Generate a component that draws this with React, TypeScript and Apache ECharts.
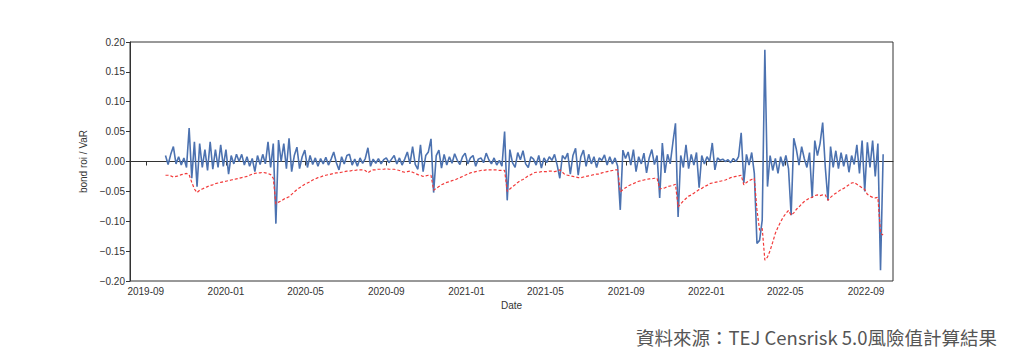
import React, { useEffect, useRef } from "react";
import * as echarts from "echarts";

// Sampling grid of the series (every 4 days from the first observation)
const startDate = [2019, 10, 1];
const stepDays = 4;

// bond return (blue)
const bondRoi = [
  0.010, -0.005, 0.012, 0.025, -0.004, 0.008, -0.006, 0.006, -0.010, 0.056,
  -0.028, 0.033, -0.042, 0.030, -0.010, 0.020, -0.015, 0.033, -0.013, 0.020,
  -0.010, 0.028, -0.008, 0.020, -0.021, 0.010, -0.004, 0.012, 0.000, 0.012,
  -0.006, 0.008, -0.008, 0.005, -0.017, 0.010, -0.005, 0.012, -0.004, 0.033,
  -0.010, 0.030, -0.104, 0.036, 0.000, 0.030, -0.012, 0.039, -0.017, 0.010,
  0.024, -0.012, 0.008, 0.019, -0.010, 0.010, -0.005, 0.006, -0.008, 0.005,
  -0.004, 0.007, -0.006, 0.004, 0.016, -0.002, -0.014, 0.008, -0.004, 0.010,
  0.012, -0.006, 0.004, -0.008, 0.006, -0.003, 0.005, 0.023, -0.008, 0.004,
  -0.003, 0.005, -0.004, 0.003, 0.006, -0.002, 0.004, 0.010, -0.004, 0.006,
  -0.006, 0.004, 0.016, -0.004, 0.025, -0.005, -0.013, 0.028, -0.017, 0.010,
  0.016, 0.038, -0.052, 0.010, 0.019, -0.011, 0.012, -0.006, 0.008, -0.003,
  0.013, 0.002, -0.005, 0.008, 0.014, -0.004, 0.006, 0.010, -0.008, 0.004,
  0.006, -0.002, 0.014, 0.003, -0.004, 0.006, -0.006, 0.002, -0.008, 0.050,
  -0.065, 0.020, -0.002, -0.010, 0.015, 0.003, 0.018, -0.004, -0.010, 0.008,
  0.004, -0.006, 0.010, -0.011, 0.006, -0.002, 0.008, 0.002, 0.012, -0.006,
  -0.028, 0.010, 0.004, 0.014, -0.021, 0.010, 0.022, -0.023, 0.008, 0.019,
  -0.008, 0.012, -0.004, 0.008, -0.010, 0.006, 0.002, 0.011, -0.006, 0.008,
  -0.004, 0.006, -0.008, -0.081, 0.019, 0.005, 0.016, -0.006, 0.020, -0.017,
  0.008, -0.004, 0.014, -0.019, 0.006, 0.020, -0.005, 0.010, -0.061, 0.031,
  -0.019, 0.012, -0.004, 0.031, 0.064, -0.093, 0.010, -0.010, 0.028, -0.012,
  0.012, -0.006, 0.015, -0.044, 0.010, -0.004, 0.008, 0.000, 0.031, -0.014,
  0.006, 0.002, 0.004, 0.000, 0.003, -0.002, 0.005, 0.000, 0.008, 0.048,
  -0.036, 0.012, -0.006, 0.015, -0.020, -0.137, -0.132, -0.098, 0.187, -0.042,
  0.010, -0.015, 0.005, -0.020, 0.008, -0.008, 0.010, -0.012, -0.090, 0.039,
  0.020, -0.006, 0.025, 0.005, -0.010, 0.015, -0.061, 0.035, 0.010, 0.030,
  0.065, -0.010, -0.065, 0.025, -0.010, 0.018, -0.012, 0.015, -0.008, 0.012,
  -0.018, 0.010, -0.005, 0.028, -0.020, 0.035, -0.050, 0.032, -0.010, 0.035,
  -0.025, 0.030, -0.182, 0.012,
];

// Value at Risk (red dashed)
const varValues = [
  -0.023, -0.023, -0.024, -0.026, -0.025, -0.024, -0.022, -0.021, -0.020, -0.022,
  -0.035, -0.046, -0.052, -0.048, -0.046, -0.044, -0.042, -0.040, -0.039, -0.037,
  -0.036, -0.035, -0.034, -0.033, -0.032, -0.031, -0.030, -0.029, -0.028, -0.027,
  -0.026, -0.025, -0.023, -0.021, -0.020, -0.019, -0.019, -0.018, -0.019, -0.020,
  -0.022, -0.028, -0.071, -0.068, -0.066, -0.063, -0.061, -0.059, -0.055, -0.051,
  -0.047, -0.044, -0.041, -0.038, -0.036, -0.034, -0.031, -0.029, -0.027, -0.026,
  -0.024, -0.023, -0.022, -0.021, -0.020, -0.019, -0.019, -0.018, -0.017, -0.016,
  -0.016, -0.015, -0.015, -0.014, -0.014, -0.014, -0.015, -0.019, -0.016, -0.014,
  -0.014, -0.013, -0.013, -0.013, -0.012, -0.013, -0.013, -0.013, -0.014, -0.015,
  -0.017, -0.018, -0.017, -0.016, -0.018, -0.020, -0.022, -0.023, -0.025, -0.024,
  -0.023, -0.023, -0.048, -0.045, -0.042, -0.039, -0.037, -0.035, -0.034, -0.032,
  -0.031, -0.029, -0.027, -0.025, -0.023, -0.021, -0.019, -0.018, -0.017, -0.016,
  -0.015, -0.015, -0.014, -0.014, -0.014, -0.014, -0.014, -0.015, -0.015, -0.015,
  -0.050, -0.046, -0.042, -0.039, -0.035, -0.032, -0.030, -0.027, -0.024, -0.022,
  -0.019, -0.018, -0.018, -0.017, -0.017, -0.017, -0.016, -0.016, -0.017, -0.016,
  -0.014, -0.018, -0.022, -0.023, -0.024, -0.025, -0.026, -0.027, -0.027, -0.026,
  -0.025, -0.024, -0.023, -0.022, -0.021, -0.021, -0.019, -0.018, -0.017, -0.016,
  -0.015, -0.014, -0.014, -0.051, -0.047, -0.044, -0.041, -0.039, -0.037, -0.035,
  -0.033, -0.032, -0.031, -0.030, -0.029, -0.029, -0.028, -0.028, -0.046, -0.045,
  -0.044, -0.042, -0.041, -0.040, -0.038, -0.076, -0.071, -0.066, -0.062, -0.058,
  -0.056, -0.053, -0.050, -0.047, -0.045, -0.042, -0.040, -0.037, -0.036, -0.035,
  -0.034, -0.033, -0.032, -0.031, -0.029, -0.027, -0.026, -0.025, -0.024, -0.023,
  -0.039, -0.035, -0.032, -0.030, -0.028, -0.081, -0.115, -0.112, -0.165, -0.160,
  -0.149, -0.135, -0.120, -0.110, -0.101, -0.093, -0.087, -0.082, -0.090, -0.086,
  -0.080, -0.076, -0.071, -0.067, -0.064, -0.061, -0.060, -0.057, -0.056, -0.057,
  -0.056, -0.056, -0.065, -0.060, -0.056, -0.053, -0.050, -0.047, -0.045, -0.042,
  -0.039, -0.036, -0.035, -0.038, -0.041, -0.044, -0.047, -0.055, -0.058, -0.060,
  -0.061, -0.060, -0.120, -0.123,
];

const xTickLabels = [
  "2019-09", "2020-01", "2020-05", "2020-09", "2021-01", "2021-05",
  "2021-09", "2022-01", "2022-05", "2022-09",
];
const xRange = ["2019-08-08", "2022-10-12"];
const yRange = [-0.2, 0.2];
const yStep = 0.05;
const yAxisTitle = "bond roi / VaR";
const xAxisTitle = "Date";
const sourceNote = "資料來源：TEJ Censrisk 5.0風險值計算結果";

const DAY = 86400000;
const parseDay = (s: string) => {
  const [y, m, d] = s.split("-").map(Number);
  return Date.UTC(y, m - 1, d || 1);
};

export default function App() {
  const ref = useRef<HTMLDivElement>(null);
  useEffect(() => {
    if (!ref.current) return;
    const chart = echarts.init(ref.current, null, { renderer: "svg" });
    const t0 = Date.UTC(startDate[0], startDate[1] - 1, startDate[2]);
    const times = bondRoi.map((_, i) => t0 + i * stepDays * DAY);
    const tickValues = xTickLabels.map(parseDay);
    const axisFont = "Liberation Sans, Arial, sans-serif";
    chart.setOption({
      animation: false,
      backgroundColor: "#ffffff",
      grid: {
        left: 130,
        right: 131,
        top: 42,
        bottom: 81,
        show: true,
        borderColor: "#333",
        borderWidth: 1,
        backgroundColor: "transparent",
      },
      xAxis: {
        type: "value",
        min: parseDay(xRange[0]),
        max: parseDay(xRange[1]),
        name: xAxisTitle,
        nameLocation: "middle",
        nameGap: 18,
        nameTextStyle: { fontFamily: axisFont, fontSize: 10, color: "#333" },
        axisLine: { show: true, lineStyle: { color: "#333", width: 1 } },
        axisTick: {
          show: true,
          length: 4,
          lineStyle: { color: "#333" },
          customValues: tickValues,
        },
        axisLabel: {
          customValues: tickValues,
          margin: 5,
          fontFamily: axisFont,
          fontSize: 10,
          color: "#333",
          formatter: (v: number) => {
            const d = new Date(v);
            const m = d.getUTCMonth() + 1;
            return d.getUTCFullYear() + "-" + (m < 10 ? "0" + m : "" + m);
          },
        },
        splitLine: { show: false },
      },
      yAxis: {
        type: "value",
        min: yRange[0],
        max: yRange[1],
        interval: yStep,
        name: yAxisTitle,
        nameLocation: "middle",
        nameGap: 36,
        nameTextStyle: { fontFamily: axisFont, fontSize: 10, color: "#333" },
        axisLine: { show: true, lineStyle: { color: "#333", width: 1 } },
        axisTick: { show: true, length: 4, lineStyle: { color: "#333" } },
        axisLabel: {
          margin: 5,
          fontFamily: axisFont,
          fontSize: 10,
          color: "#333",
          formatter: (v: number) =>
            (v < -1e-9 ? "\u2212" : "") + Math.abs(v).toFixed(2),
        },
        splitLine: { show: false },
      },
      series: [
        {
          name: "bond roi",
          type: "line",
          data: times.map((t, i) => [t, bondRoi[i]]),
          showSymbol: false,
          lineStyle: { color: "#4c72b0", width: 1.6 },
          z: 2,
        },
        {
          name: "VaR",
          type: "line",
          data: times.map((t, i) => [t, varValues[i]]),
          showSymbol: false,
          lineStyle: { color: "#f23a3a", width: 1.2, type: [3, 2] },
          z: 3,
        },
      ],
      graphic: [
        {
          type: "text",
          right: 27,
          top: 328,
          style: {
            text: sourceNote,
            font: '18.5px "Noto Sans CJK TC", "Noto Sans", sans-serif',
            fill: "#555",
          },
        },
      ],
    });
    return () => chart.dispose();
  }, []);
  return (
    <div
      ref={ref}
      style={{ position: "absolute", left: 0, top: 0, width: 1024, height: 362 }}
    />
  );
}
